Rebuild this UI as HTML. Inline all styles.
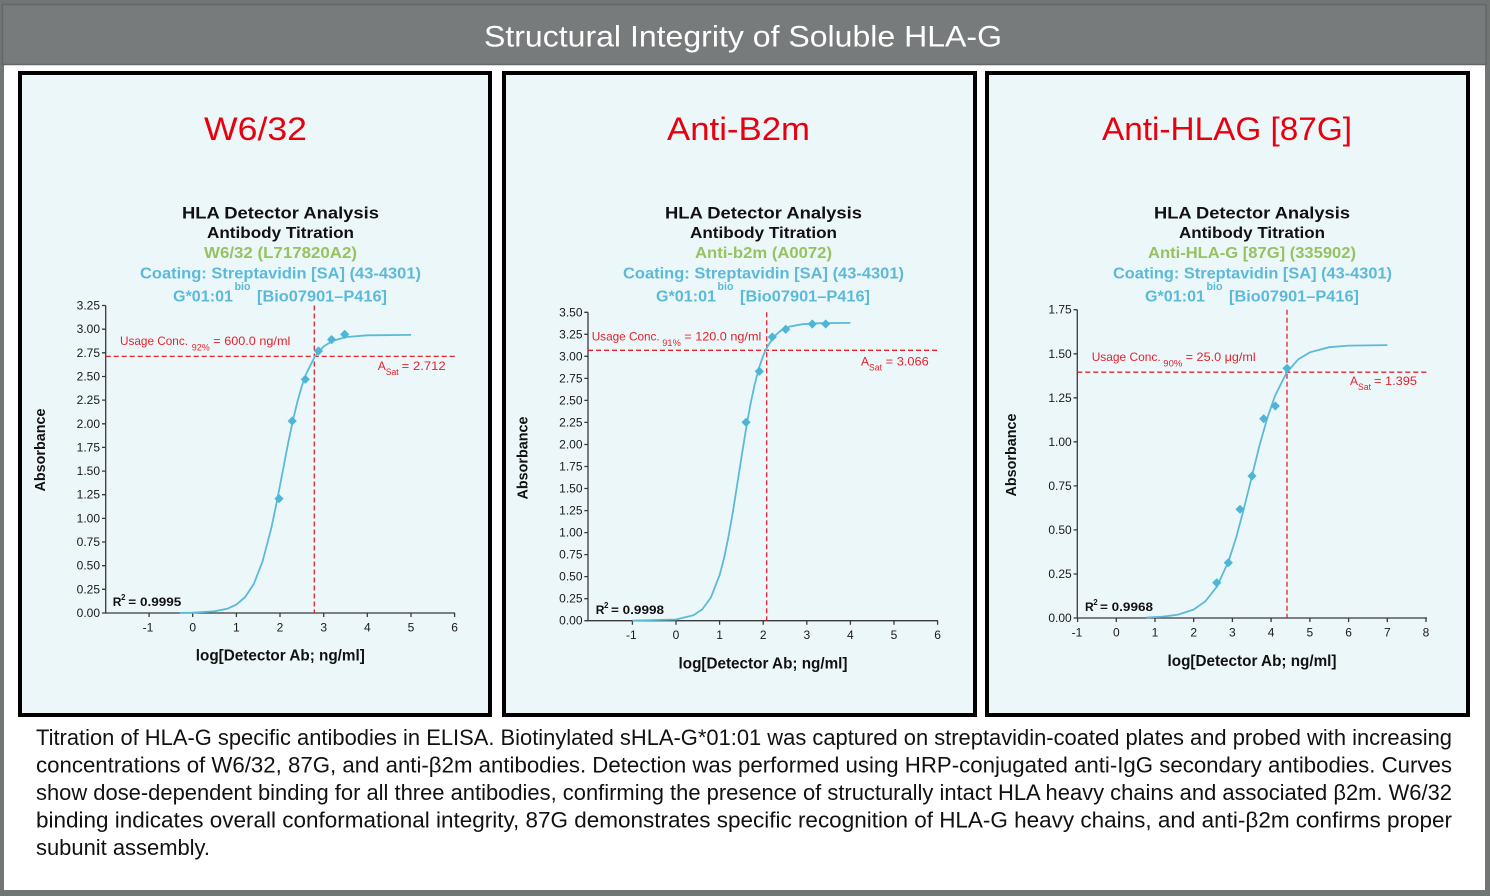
<!DOCTYPE html>
<html>
<head>
<meta charset="utf-8">
<style>
html,body{margin:0;padding:0;background:#fff;}
svg{display:block;}
text{font-family:"Liberation Sans",sans-serif;}
</style>
</head>
<body>
<svg width="1490" height="896" viewBox="0 0 1490 896" xmlns="http://www.w3.org/2000/svg">
  <!-- frame -->
  <rect x="0" y="0" width="1490" height="896" fill="#717574"/>
  <rect x="4" y="65" width="1481" height="825" fill="#ffffff"/>
  <rect x="2.5" y="4.5" width="1483.5" height="60" fill="#787b7b" stroke="#646767" stroke-width="1.5"/>
  <text x="484" y="46.5" font-size="30" fill="#ffffff" textLength="518" lengthAdjust="spacingAndGlyphs">Structural Integrity of Soluble HLA-G</text>

  <!-- panels -->
  <rect x="20" y="73" width="470" height="642" fill="#ecf7fa" stroke="#000" stroke-width="4"/>
  <rect x="504" y="73" width="471" height="642" fill="#ecf7fa" stroke="#000" stroke-width="4"/>
  <rect x="987" y="73" width="481" height="642" fill="#ecf7fa" stroke="#000" stroke-width="4"/>

  <!-- panel titles -->
  <g font-size="32" fill="#e8000e">
    <text x="204" y="140" textLength="103" lengthAdjust="spacingAndGlyphs">W6/32</text>
    <text x="667" y="140" textLength="143" lengthAdjust="spacingAndGlyphs">Anti-B2m</text>
    <text x="1102" y="140" textLength="250" lengthAdjust="spacingAndGlyphs">Anti-HLAG [87G]</text>
  </g>

  <!-- subtitles -->
  <g font-weight="bold" text-anchor="middle">
    <text x="280.5" y="218.3" font-size="17" fill="#111" textLength="197" lengthAdjust="spacingAndGlyphs">HLA Detector Analysis</text>
    <text x="280.5" y="238" font-size="16" fill="#111" textLength="147" lengthAdjust="spacingAndGlyphs">Antibody Titration</text>
    <text x="280.5" y="258" font-size="16" fill="#97c25f" textLength="153" lengthAdjust="spacingAndGlyphs">W6/32 (L717820A2)</text>
    <text x="280.5" y="278.3" font-size="16" fill="#5cbad8" textLength="281" lengthAdjust="spacingAndGlyphs">Coating: Streptavidin [SA] (43-4301)</text>

    <text x="763.5" y="218.3" font-size="17" fill="#111" textLength="197" lengthAdjust="spacingAndGlyphs">HLA Detector Analysis</text>
    <text x="763.5" y="238" font-size="16" fill="#111" textLength="147" lengthAdjust="spacingAndGlyphs">Antibody Titration</text>
    <text x="763.5" y="258" font-size="16" fill="#97c25f" textLength="137" lengthAdjust="spacingAndGlyphs">Anti-b2m (A0072)</text>
    <text x="763.5" y="278.3" font-size="16" fill="#5cbad8" textLength="281" lengthAdjust="spacingAndGlyphs">Coating: Streptavidin [SA] (43-4301)</text>

    <text x="1252" y="218.3" font-size="17" fill="#111" textLength="196" lengthAdjust="spacingAndGlyphs">HLA Detector Analysis</text>
    <text x="1252" y="238" font-size="16" fill="#111" textLength="146" lengthAdjust="spacingAndGlyphs">Antibody Titration</text>
    <text x="1252" y="258" font-size="16" fill="#97c25f" textLength="208" lengthAdjust="spacingAndGlyphs">Anti-HLA-G [87G] (335902)</text>
    <text x="1252.5" y="278.3" font-size="16" fill="#5cbad8" textLength="279" lengthAdjust="spacingAndGlyphs">Coating: Streptavidin [SA] (43-4301)</text>
  </g>
  <g font-weight="bold" fill="#5cbad8">
    <text x="173" y="301.7" font-size="16" textLength="60" lengthAdjust="spacingAndGlyphs">G*01:01</text>
    <text x="234.5" y="290" font-size="11" textLength="16" lengthAdjust="spacingAndGlyphs">bio</text>
    <text x="257" y="301.7" font-size="16" textLength="130" lengthAdjust="spacingAndGlyphs">[Bio07901–P416]</text>

    <text x="656" y="301.7" font-size="16" textLength="60" lengthAdjust="spacingAndGlyphs">G*01:01</text>
    <text x="717.5" y="290" font-size="11" textLength="16" lengthAdjust="spacingAndGlyphs">bio</text>
    <text x="740" y="301.7" font-size="16" textLength="130" lengthAdjust="spacingAndGlyphs">[Bio07901–P416]</text>

    <text x="1145" y="301.7" font-size="16" textLength="60" lengthAdjust="spacingAndGlyphs">G*01:01</text>
    <text x="1206.5" y="290" font-size="11" textLength="16" lengthAdjust="spacingAndGlyphs">bio</text>
    <text x="1229" y="301.7" font-size="16" textLength="130" lengthAdjust="spacingAndGlyphs">[Bio07901–P416]</text>
  </g>

  <!-- ============ PANEL 1 CHART ============ -->
  <g stroke="#3a3a3a" stroke-width="1.3" fill="none">
    <path d="M105.7,305.5 V613 H455"/>
    <path d="M102,613H105.7 M102,589.3H105.7 M102,565.7H105.7 M102,542H105.7 M102,518.4H105.7 M102,494.7H105.7 M102,471.1H105.7 M102,447.4H105.7 M102,423.8H105.7 M102,400.1H105.7 M102,376.5H105.7 M102,352.8H105.7 M102,329.2H105.7 M102,305.5H105.7"/>
    <path d="M149.1,613v4 M192.7,613v4 M236.4,613v4 M280,613v4 M323.7,613v4 M367.3,613v4 M411,613v4 M454.6,613v4"/>
  </g>
  <g font-size="12" fill="#1a1a1a" text-anchor="end">
    <text x="100" y="617">0.00</text><text x="100" y="593.3">0.25</text><text x="100" y="569.7">0.50</text>
    <text x="100" y="546">0.75</text><text x="100" y="522.4">1.00</text><text x="100" y="498.7">1.25</text>
    <text x="100" y="475.1">1.50</text><text x="100" y="451.4">1.75</text><text x="100" y="427.8">2.00</text>
    <text x="100" y="404.1">2.25</text><text x="100" y="380.5">2.50</text><text x="100" y="356.8">2.75</text>
    <text x="100" y="333.2">3.00</text><text x="100" y="309.5">3.25</text>
  </g>
  <g font-size="12" fill="#1a1a1a" text-anchor="middle">
    <text x="148" y="631.7">-1</text><text x="192.7" y="631.7">0</text><text x="236.4" y="631.7">1</text>
    <text x="280" y="631.7">2</text><text x="323.7" y="631.7">3</text><text x="367.3" y="631.7">4</text>
    <text x="411" y="631.7">5</text><text x="454.6" y="631.7">6</text>
  </g>
  <text x="280.3" y="660.7" font-size="16" font-weight="bold" fill="#111" text-anchor="middle" textLength="169" lengthAdjust="spacingAndGlyphs">log[Detector Ab; ng/ml]</text>
  <text transform="translate(45,450) rotate(-90)" font-size="15" font-weight="bold" fill="#111" text-anchor="middle" textLength="83" lengthAdjust="spacingAndGlyphs">Absorbance</text>
  <g stroke="#e4222c" stroke-width="1.3" stroke-dasharray="5 3" fill="none">
    <path d="M314.3,305.5V613"/>
    <path d="M105.7,356.4H455"/>
  </g>
  <path fill="none" stroke="#5cbad8" stroke-width="1.8" d="M179.6,612.9 L192.7,612.7 L214.5,611.3 L227.6,608.6 L236.4,604.6 L245.1,597.1 L253.8,583.9 L262.5,561.6 L271.3,528.2 L275.6,507.7 L280,485.4 L284.4,462.5 L288.7,440.2 L293.1,419.6 L297.5,401.5 L301.8,386.2 L306.2,373.9 L314.9,356.4 L323.6,346.5 L332.4,341 L345.5,337.1 L367.3,335.3 L411,334.9"/>
  <g fill="#4fb5d5">
    <path d="M279,494l4.6,4.6l-4.6,4.6l-4.6,-4.6z"/>
    <path d="M292.2,416.4l4.6,4.6l-4.6,4.6l-4.6,-4.6z"/>
    <path d="M305.3,374.7l4.6,4.6l-4.6,4.6l-4.6,-4.6z"/>
    <path d="M318.5,346.4l4.6,4.6l-4.6,4.6l-4.6,-4.6z"/>
    <path d="M331.6,335l4.6,4.6l-4.6,4.6l-4.6,-4.6z"/>
    <path d="M344.7,329.8l4.6,4.6l-4.6,4.6l-4.6,-4.6z"/>
  </g>
  <g fill="#e4222c">
    <text x="120" y="345" font-size="12" textLength="68" lengthAdjust="spacingAndGlyphs">Usage Conc.</text>
    <text x="191.7" y="350.5" font-size="9" textLength="18" lengthAdjust="spacingAndGlyphs">92%</text>
    <text x="213.3" y="345" font-size="12" textLength="77" lengthAdjust="spacingAndGlyphs">= 600.0 ng/ml</text>
    <text x="377.7" y="370" font-size="12">A</text>
    <text x="385.7" y="375" font-size="9" textLength="13" lengthAdjust="spacingAndGlyphs">Sat</text>
    <text x="401.7" y="370" font-size="12" textLength="44" lengthAdjust="spacingAndGlyphs">=  2.712</text>
  </g>
  <g fill="#111" font-weight="bold">
    <text x="112.7" y="606" font-size="12">R</text>
    <text x="121" y="600" font-size="8">2</text>
    <text x="128.3" y="606" font-size="12" textLength="53" lengthAdjust="spacingAndGlyphs">=  0.9995</text>
  </g>

  <!-- ============ PANEL 2 CHART ============ -->
  <g stroke="#3a3a3a" stroke-width="1.3" fill="none">
    <path d="M588,312.3 V620.7 H938"/>
    <path d="M584.3,620.7H588 M584.3,598.7H588 M584.3,576.6H588 M584.3,554.6H588 M584.3,532.6H588 M584.3,510.6H588 M584.3,488.5H588 M584.3,466.5H588 M584.3,444.5H588 M584.3,422.4H588 M584.3,400.4H588 M584.3,378.4H588 M584.3,356.3H588 M584.3,334.3H588 M584.3,312.3H588"/>
    <path d="M632.4,620.7v4 M676,620.7v4 M719.6,620.7v4 M763.2,620.7v4 M806.8,620.7v4 M850.4,620.7v4 M894,620.7v4 M937.6,620.7v4"/>
  </g>
  <g font-size="12" fill="#1a1a1a" text-anchor="end">
    <text x="582.5" y="624.7">0.00</text><text x="582.5" y="602.7">0.25</text><text x="582.5" y="580.6">0.50</text>
    <text x="582.5" y="558.6">0.75</text><text x="582.5" y="536.6">1.00</text><text x="582.5" y="514.6">1.25</text>
    <text x="582.5" y="492.5">1.50</text><text x="582.5" y="470.5">1.75</text><text x="582.5" y="448.5">2.00</text>
    <text x="582.5" y="426.4">2.25</text><text x="582.5" y="404.4">2.50</text><text x="582.5" y="382.4">2.75</text>
    <text x="582.5" y="360.3">3.00</text><text x="582.5" y="338.3">3.25</text><text x="582.5" y="316.3">3.50</text>
  </g>
  <g font-size="12" fill="#1a1a1a" text-anchor="middle">
    <text x="631.3" y="639">-1</text><text x="676" y="639">0</text><text x="719.6" y="639">1</text>
    <text x="763.2" y="639">2</text><text x="806.8" y="639">3</text><text x="850.4" y="639">4</text>
    <text x="894" y="639">5</text><text x="937.6" y="639">6</text>
  </g>
  <text x="763" y="668.3" font-size="16" font-weight="bold" fill="#111" text-anchor="middle" textLength="169" lengthAdjust="spacingAndGlyphs">log[Detector Ab; ng/ml]</text>
  <text transform="translate(527.5,458) rotate(-90)" font-size="15" font-weight="bold" fill="#111" text-anchor="middle" textLength="83" lengthAdjust="spacingAndGlyphs">Absorbance</text>
  <g stroke="#e4222c" stroke-width="1.3" stroke-dasharray="5 3" fill="none">
    <path d="M766.7,312.3V620.7"/>
    <path d="M588,350.3H938"/>
  </g>
  <path fill="none" stroke="#5cbad8" stroke-width="1.8" d="M632.4,620.6 L676,619.5 L693.4,615.3 L702.2,609.4 L710.9,597.5 L719.6,575.1 L724,558.4 L728.3,537.6 L732.7,513.1 L737,485.9 L741.4,457.7 L745.8,430.5 L750.1,406 L754.5,385.2 L758.8,368.5 L763.2,355.7 L767.6,346.2 L774.1,336.5 L780.6,330.8 L789.4,326.6 L802.4,324.2 L819.9,323.2 L850.4,322.9"/>
  <g fill="#4fb5d5">
    <path d="M746,417.7l4.6,4.6l-4.6,4.6l-4.6,-4.6z"/>
    <path d="M759.3,366.7l4.6,4.6l-4.6,4.6l-4.6,-4.6z"/>
    <path d="M772.3,332.4l4.6,4.6l-4.6,4.6l-4.6,-4.6z"/>
    <path d="M785.7,324.7l4.6,4.6l-4.6,4.6l-4.6,-4.6z"/>
    <path d="M812.3,319.4l4.6,4.6l-4.6,4.6l-4.6,-4.6z"/>
    <path d="M825.7,319.4l4.6,4.6l-4.6,4.6l-4.6,-4.6z"/>
  </g>
  <g fill="#e4222c">
    <text x="591.7" y="340.7" font-size="12" textLength="68" lengthAdjust="spacingAndGlyphs">Usage Conc.</text>
    <text x="662.3" y="346" font-size="9" textLength="18.5" lengthAdjust="spacingAndGlyphs">91%</text>
    <text x="684.3" y="340.7" font-size="12" textLength="77" lengthAdjust="spacingAndGlyphs">= 120.0 ng/ml</text>
    <text x="861" y="365.7" font-size="12">A</text>
    <text x="869" y="370.7" font-size="9" textLength="13" lengthAdjust="spacingAndGlyphs">Sat</text>
    <text x="885.7" y="365.7" font-size="12" textLength="43" lengthAdjust="spacingAndGlyphs">=  3.066</text>
  </g>
  <g fill="#111" font-weight="bold">
    <text x="595.7" y="614" font-size="12">R</text>
    <text x="604" y="608" font-size="8">2</text>
    <text x="611" y="614" font-size="12" textLength="53" lengthAdjust="spacingAndGlyphs">=  0.9998</text>
  </g>

  <!-- ============ PANEL 3 CHART ============ -->
  <g stroke="#3a3a3a" stroke-width="1.3" fill="none">
    <path d="M1077.3,309.7 V618 H1427"/>
    <path d="M1073.6,618H1077.3 M1073.6,574H1077.3 M1073.6,529.9H1077.3 M1073.6,485.9H1077.3 M1073.6,441.8H1077.3 M1073.6,397.8H1077.3 M1073.6,353.8H1077.3 M1073.6,309.7H1077.3"/>
    <path d="M1077.6,618v4 M1116.3,618v4 M1155,618v4 M1193.7,618v4 M1232.4,618v4 M1271.1,618v4 M1309.9,618v4 M1348.6,618v4 M1387.3,618v4 M1426,618v4"/>
  </g>
  <g font-size="12" fill="#1a1a1a" text-anchor="end">
    <text x="1071.7" y="622">0.00</text><text x="1071.7" y="578">0.25</text><text x="1071.7" y="533.9">0.50</text>
    <text x="1071.7" y="489.9">0.75</text><text x="1071.7" y="445.8">1.00</text><text x="1071.7" y="401.8">1.25</text>
    <text x="1071.7" y="357.8">1.50</text><text x="1071.7" y="313.7">1.75</text>
  </g>
  <g font-size="12" fill="#1a1a1a" text-anchor="middle">
    <text x="1077" y="636.7">-1</text><text x="1116.3" y="636.7">0</text><text x="1155" y="636.7">1</text>
    <text x="1193.7" y="636.7">2</text><text x="1232.4" y="636.7">3</text><text x="1271.1" y="636.7">4</text>
    <text x="1309.9" y="636.7">5</text><text x="1348.6" y="636.7">6</text><text x="1387.3" y="636.7">7</text>
    <text x="1426" y="636.7">8</text>
  </g>
  <text x="1252" y="666" font-size="16" font-weight="bold" fill="#111" text-anchor="middle" textLength="169" lengthAdjust="spacingAndGlyphs">log[Detector Ab; ng/ml]</text>
  <text transform="translate(1016,455) rotate(-90)" font-size="15" font-weight="bold" fill="#111" text-anchor="middle" textLength="83" lengthAdjust="spacingAndGlyphs">Absorbance</text>
  <g stroke="#e4222c" stroke-width="1.3" stroke-dasharray="5 3" fill="none">
    <path d="M1287,309.7V618"/>
    <path d="M1077.3,372.2H1427"/>
  </g>
  <path fill="none" stroke="#5cbad8" stroke-width="1.8" d="M1146.5,617.5 L1162.8,616.7 L1178.2,614.6 L1193.7,609.5 L1205.3,601.4 L1217,586.5 L1228.6,561.1 L1236.3,537.1 L1244,508.2 L1251.8,476.7 L1259.5,445.5 L1267.3,418 L1275,395.8 L1286.6,372.7 L1298.2,359.3 L1309.9,352.3 L1329.2,347.2 L1348.6,345.6 L1387.3,345.1"/>
  <g fill="#4fb5d5">
    <path d="M1216.7,578.1l4.6,4.6l-4.6,4.6l-4.6,-4.6z"/>
    <path d="M1228.3,558.1l4.6,4.6l-4.6,4.6l-4.6,-4.6z"/>
    <path d="M1240,504.7l4.6,4.6l-4.6,4.6l-4.6,-4.6z"/>
    <path d="M1252,471.4l4.6,4.6l-4.6,4.6l-4.6,-4.6z"/>
    <path d="M1263.7,414.1l4.6,4.6l-4.6,4.6l-4.6,-4.6z"/>
    <path d="M1275.3,401.4l4.6,4.6l-4.6,4.6l-4.6,-4.6z"/>
    <path d="M1287,363.7l4.6,4.6l-4.6,4.6l-4.6,-4.6z"/>
  </g>
  <g fill="#e4222c">
    <text x="1091.7" y="361" font-size="12" textLength="69" lengthAdjust="spacingAndGlyphs">Usage Conc.</text>
    <text x="1163.3" y="366.5" font-size="9" textLength="19" lengthAdjust="spacingAndGlyphs">90%</text>
    <text x="1185.7" y="361" font-size="12" textLength="70" lengthAdjust="spacingAndGlyphs">= 25.0 μg/ml</text>
    <text x="1350" y="385" font-size="12">A</text>
    <text x="1358" y="390" font-size="9" textLength="13" lengthAdjust="spacingAndGlyphs">Sat</text>
    <text x="1374" y="385" font-size="12" textLength="43" lengthAdjust="spacingAndGlyphs">=  1.395</text>
  </g>
  <g fill="#111" font-weight="bold">
    <text x="1085" y="611" font-size="12">R</text>
    <text x="1093.3" y="605" font-size="8">2</text>
    <text x="1100" y="611" font-size="12" textLength="53" lengthAdjust="spacingAndGlyphs">=  0.9968</text>
  </g>

  <!-- caption -->
  <g font-size="22" fill="#111">
    <text x="36" y="745" textLength="1416" lengthAdjust="spacingAndGlyphs">Titration of HLA-G specific antibodies in ELISA. Biotinylated sHLA-G*01:01 was captured on streptavidin-coated plates and probed with increasing</text>
    <text x="36" y="772.7" textLength="1416" lengthAdjust="spacingAndGlyphs">concentrations of W6/32, 87G, and anti-β2m antibodies. Detection was performed using HRP-conjugated anti-IgG secondary antibodies. Curves</text>
    <text x="36" y="800.2" textLength="1416" lengthAdjust="spacingAndGlyphs">show dose-dependent binding for all three antibodies, confirming the presence of structurally intact HLA heavy chains and associated β2m. W6/32</text>
    <text x="36" y="827.6" textLength="1416" lengthAdjust="spacingAndGlyphs">binding indicates overall conformational integrity, 87G demonstrates specific recognition of HLA-G heavy chains, and anti-β2m confirms proper</text>
    <text x="36" y="855" textLength="174" lengthAdjust="spacingAndGlyphs">subunit assembly.</text>
  </g>
</svg>
</body>
</html>
